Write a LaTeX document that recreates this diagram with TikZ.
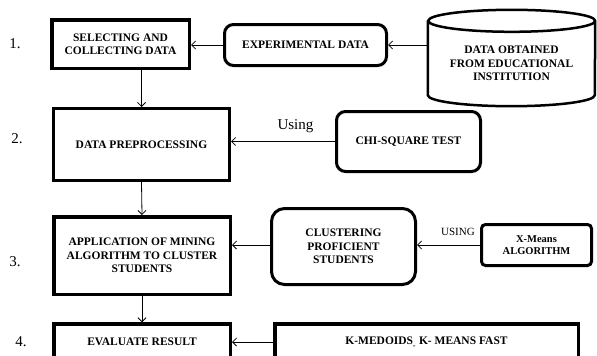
\documentclass[tikz,border=0pt]{standalone}
\usepackage{fontspec}
\setmainfont{Liberation Serif}
\usetikzlibrary{arrows.meta,positioning}

\begin{document}
\begin{tikzpicture}[x=1pt,y=-1pt,
    stepbox/.style={draw,line width=3.5pt,align=center,inner sep=2pt,font=\bfseries\fontsize{11.5}{13.5}\selectfont},
    softbox/.style={draw,line width=3pt,rounded corners=9pt,align=center,inner sep=2pt,font=\bfseries\fontsize{11.5}{13.5}\selectfont},
    num/.style={font=\fontsize{15}{15}\selectfont},
    link/.style={->,line width=0.8pt,>={Straight Barb[length=4pt,width=8pt]}}]
  \useasboundingbox (0,0) rectangle (597,356);

  \draw (15,44) node[num] (one) {1.};
  \draw (17,139) node[num] (two) {2.};
  \draw (15,262) node[num] (three) {3.};
  \draw (21,342) node[num] (four) {4.};

  \draw (120.5,44) node[stepbox,minimum width=137.5,minimum height=48.5] (select) {SELECTING AND\\COLLECTING DATA};
  \draw (305.5,45) node[softbox,minimum width=162,minimum height=41] (exper) {EXPERIMENTAL DATA};
  \draw (511.5,63.5) node[minimum width=167,minimum height=85,align=center,inner sep=0pt,
        font=\bfseries\fontsize{11.5}{13.5}\selectfont] (source) {DATA OBTAINED\\FROM EDUCATIONAL\\INSTITUTION};
  \draw[line width=2.5pt] (source.north west) -- ([yshift=11pt]source.south west)
        arc[start angle=180,end angle=360,x radius=83.5pt,y radius=11pt]
        -- (source.north east)
        arc[start angle=0,end angle=360,x radius=83.5pt,y radius=11pt];

  \draw (141.5,144.5) node[stepbox,line width=3pt,minimum width=176,minimum height=72] (prep) {DATA PREPROCESSING};
  \draw (408.5,141.5) node[softbox,minimum width=144,minimum height=60] (chi) {CHI-SQUARE TEST};

  \draw (142,255.5) node[stepbox,minimum width=176.5,minimum height=77.5] (apply) {APPLICATION OF MINING\\ALGORITHM TO CLUSTER\\STUDENTS};
  \draw (343.5,246.5) node[softbox,rounded corners=13pt,minimum width=144,minimum height=76] (cluster) {CLUSTERING\\PROFICIENT\\STUDENTS};
  \draw (536.5,245) node[softbox,rounded corners=4pt,minimum width=110,minimum height=41,
        font=\bfseries\fontsize{10.5}{12}\selectfont] (xmeans) {X-Means\\ALGORITHM};

  \draw (142,342) node[stepbox,minimum width=176.5,minimum height=36] (eval) {EVALUATE RESULT};
  \draw (426.5,342) node[stepbox,minimum width=303.5,minimum height=36] (kmed) {K-MEDOIDS\textsubscript{\tiny,,} K- MEANS FAST};

  \path[link] (exper.west) edge (exper.west -| select.east);
  \path[link] (source.west |- exper.east) edge (exper.east);
  \path[link] (select.south -| prep.north) edge (prep.north);
  \path[link] (chi.west) edge node[pos=0.38,above=5pt,font=\fontsize{15}{15}\selectfont] {Using} (chi.west -| prep.east);
  \path[link] (prep.south) edge (apply.north);
  \path[link] (cluster.west |- xmeans.west) edge (cluster.west |- xmeans.west -| apply.east);
  \path[link] (xmeans.west) edge node[pos=0.35,above=6pt,font=\fontsize{11}{11}\selectfont] {USING} (xmeans.west -| cluster.east);
  \path[link] (apply.south) edge (eval.north);
  \path[link] (kmed.west) edge (kmed.west -| eval.east);
\end{tikzpicture}
\end{document}
